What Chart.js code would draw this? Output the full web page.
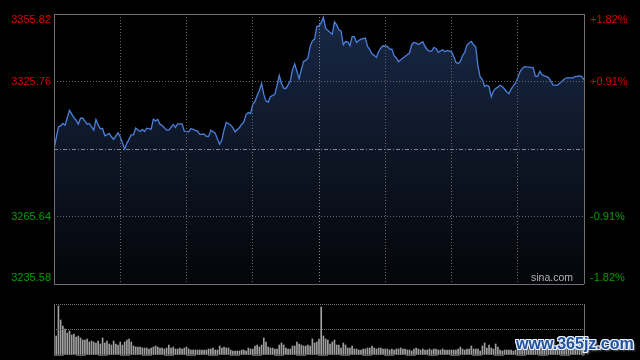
<!DOCTYPE html>
<html>
<head>
<meta charset="utf-8">
<script src="https://cdn.jsdelivr.net/npm/chart.js@4.4.1/dist/chart.umd.min.js"></script>
<style>
html, body { margin: 0; padding: 0; background: #000; }
#wrap { position: relative; width: 640px; height: 360px; overflow: hidden; background: #000; }
#priceChart { position: absolute; left: 0; top: 0; }
#volChart { position: absolute; left: 0; top: 300px; }
#mark {
    position: absolute; left: 516px; top: 335px;
    font: bold 16px "Liberation Sans", Arial, sans-serif;
    color: #22529e;
    text-shadow: 1px 0 0 #e8f0ff, -1px 0 0 #e8f0ff, 0 1px 0 #e8f0ff, 0 -1px 0 #e8f0ff,
                 1px 1px 0 #e8f0ff, -1px -1px 0 #e8f0ff, 1px -1px 0 #e8f0ff, -1px 1px 0 #e8f0ff,
                 2px 2px 2px #777;
}
</style>
</head>
<body>
<div id="wrap">
    <canvas id="priceChart" width="640" height="300"></canvas>
    <canvas id="volChart" width="640" height="60"></canvas>
    <div id="mark">www.365jz.com</div>
</div>
<script>
/// Axis levels
const prevClose = 3295.70;
const priceLevels = [3355.82, 3325.76, 3265.64, 3235.58];
const pctLabels = ['+1.82%', '+0.91%', '-0.91%', '-1.82%'];
const timeTicks = [0, 30, 60, 90, 120, 150, 180, 210, 240];

/// Intraday price (minute index from 9:30, 0..240)
const minutes = [0,2,3,4,5,7,9,10,11,12,13,15,16,18,19,20,21,22,23,25,26,27,29,30,32,33,35,36,37,39,
    40,41,42,44,45,46,47,48,49,51,52,54,55,56,58,59,61,62,64,65,66,68,69,70,71,73,74,75,76,77,
    78,80,81,82,84,85,86,87,88,89,90,91,92,93,94,95,96,97,98,100,101,102,103,104,105,107,108,109,110,111,
    112,113,114,115,116,117,118,119,120,121,122,123,124,126,127,128,129,130,131,132,133,134,135,136,137,138,139,141,142,143,
    144,146,147,148,149,151,152,153,154,155,156,157,158,160,161,162,163,164,165,167,168,169,170,171,172,173,174,176,177,178,
    179,180,181,182,183,184,185,186,187,188,189,190,191,192,193,194,195,196,197,198,199,200,201,202,203,205,206,207,208,209,
    210,211,212,213,214,216,217,218,219,220,221,222,223,224,225,226,228,229,230,231,232,234,235,236,238,239,240];
const prices = [3295.70,3305.56,3306.00,3307.06,3306.31,3312.94,3309.71,3308.52,3306.75,3309.40,3309.40,3306.75,3307.06,3304.10,3308.83,3306.44,3304.67,3304.85,3301.58,3302.64,3301.14,3299.99,3302.90,3301.14,3295.70,3298.22,3302.02,3302.02,3304.98,3303.52,
    3304.41,3303.52,3304.98,3304.54,3308.96,3308.21,3308.83,3306.75,3306.18,3304.10,3304.10,3306.62,3305.29,3306.88,3306.88,3303.66,3303.35,3304.85,3303.97,3303.66,3302.20,3302.33,3301.31,3301.31,3304.10,3302.77,3300.12,3297.78,3299.68,3304.23,
    3307.50,3306.44,3305.11,3303.35,3305.29,3306.75,3307.77,3311.17,3311.92,3311.48,3315.59,3316.79,3319.57,3321.78,3324.88,3320.01,3317.05,3316.61,3319.00,3320.01,3323.99,3328.41,3324.88,3322.80,3322.67,3325.89,3331.06,3333.58,3330.31,3326.95,
    3331.06,3334.73,3335.17,3336.23,3341.36,3343.88,3344.63,3350.20,3350.51,3351.97,3354.35,3349.49,3348.43,3346.84,3352.28,3350.95,3348.74,3348.17,3342.11,3343.57,3343.44,3341.67,3345.78,3345.78,3343.13,3344.01,3344.63,3345.07,3341.36,3339.91,
    3338.13,3336.59,3339.15,3340.66,3341.67,3341.36,3340.21,3340.21,3337.25,3336.23,3334.60,3335.49,3336.23,3337.70,3338.45,3342.25,3343.13,3342.86,3342.25,3343.44,3341.36,3339.91,3339.33,3339.33,3340.92,3340.48,3338.71,3339.91,3339.02,3339.60,
    3339.33,3339.02,3336.94,3334.29,3333.72,3334.73,3337.25,3338.71,3341.98,3342.87,3343.57,3342.11,3341.10,3332.52,3327.66,3326.64,3323.55,3324.12,3323.42,3319.00,3321.47,3322.67,3323.24,3324.12,3323.55,3321.21,3320.32,3322.36,3323.86,3325.01,
    3327.40,3330.05,3331.51,3332.39,3332.26,3332.08,3331.82,3328.10,3327.97,3330.31,3328.85,3328.28,3327.97,3327.40,3325.89,3324.12,3324.12,3325.01,3325.89,3326.78,3327.40,3327.40,3327.40,3327.97,3328.28,3327.97,3326.51];

/// Volume per minute (relative units), morning = minutes 1..120, afternoon = 121..240
const volMorning = [19,49,35,29,26,22,24,20,21,18, 19,17,15,15,16,13,14,13,12,14,
    11,17,12,14,11,10,14,11,10,13, 10,13,15,16,13,9,8,8,8,7,
    7,7,6,7,8,9,8,7,7,6, 7,10,7,8,6,6,7,6,7,8,
    6,5,5,5,5,5,5,5,5,6, 6,7,5,5,9,7,8,7,7,5,
    4,4,4,4,5,5,4,7,6,6, 9,10,8,10,17,13,8,7,7,6,
    6,10,12,10,7,6,6,9,9,13, 11,10,9,9,10,9,16,12,13,16];
const volAfternoon = [48,19,16,15,11,13,15,10,10,7, 12,10,7,7,9,6,6,5,5,6,
    6,7,7,9,7,6,7,7,6,6, 6,5,6,5,6,6,7,6,6,5,
    5,4,6,7,6,5,6,5,5,6, 5,6,6,5,5,6,5,5,5,5,
    5,5,6,8,6,5,6,6,9,6, 6,6,4,9,12,7,10,7,6,11,
    8,5,4,5,5,5,5,4,5,5, 5,5,6,5,5,6,6,5,6,7,
    6,5,6,6,7,6,5,6,7,8, 6,6,7,8,7,8,7,9,8,12];
const volMax = 51;

const FONT = '"Liberation Sans", Arial, sans-serif';
const frameColor = '#707070';
const dotColor = '#666666';

function areaFill(context) {
    const area = context.chart.chartArea;
    if (!area) return 'rgb(14,22,39)';
    const g = context.chart.ctx.createLinearGradient(0, area.top, 0, area.bottom);
    g.addColorStop(0, 'rgb(24,40,70)');
    g.addColorStop(1, 'rgb(4,5,8)');
    return g;
}

/// Side labels, drawn at the y scale's own pixels
const sideLabels = {
    id: 'sideLabels',
    afterDraw(chart) {
        const {ctx, chartArea, scales: {y}} = chart;
        ctx.save();
        ctx.font = '11px ' + FONT;
        ctx.textBaseline = 'middle';
        priceLevels.forEach((v, i) => {
            let py = y.getPixelForValue(v);
            if (i === 0) py += 6;
            if (i === priceLevels.length - 1) py -= 6;
            ctx.fillStyle = v > prevClose ? '#d80000' : '#00a000';
            ctx.textAlign = 'right';
            ctx.fillText(v.toFixed(2), chartArea.left - 3, py);
            ctx.textAlign = 'left';
            ctx.fillText(pctLabels[i], chartArea.right + 6, py);
        });
        ctx.fillStyle = '#b4b4b4';
        ctx.font = '10.5px ' + FONT;
        ctx.textAlign = 'right';
        ctx.fillText('sina.com', chartArea.right - 11, chartArea.bottom - 6);
        ctx.restore();
    }
};

/// Setup price chart
const priceChart = new Chart('priceChart', {
    type: 'line',
    data: {
        datasets: [{
            data: minutes.map((m, i) => ({x: m, y: prices[i]})),
            borderColor: '#4a80dc',
            borderWidth: 1.3,
            backgroundColor: areaFill,
            fill: 'start',
            pointRadius: 0,
            tension: 0
        }]
    },
    options: {
        responsive: false,
        animation: false,
        events: [],
        layout: {padding: {left: 54, right: 56, top: 14, bottom: 16}},
        plugins: {legend: {display: false}, tooltip: {enabled: false}},
        scales: {
            x: {
                type: 'linear', min: 0, max: 240,
                afterBuildTicks: s => { s.ticks = timeTicks.map(v => ({value: v})); },
                ticks: {display: false},
                grid: {
                    drawTicks: false, z: 1,
                    color: c => (c.tick.value === 0 || c.tick.value === 240) ? frameColor
                        : (c.tick.value === 120 ? '#858585' : dotColor)
                },
                border: {
                    display: false,
                    dash: c => (c.tick.value === 0 || c.tick.value === 240) ? [] : [1, 2]
                }
            },
            y: {
                min: priceLevels[3], max: priceLevels[0],
                afterBuildTicks: s => {
                    s.ticks = [priceLevels[3], priceLevels[2], prevClose, priceLevels[1], priceLevels[0]].map(v => ({value: v}));
                },
                ticks: {display: false},
                grid: {
                    drawTicks: false, z: 1,
                    color: c => c.tick.value === prevClose ? '#7d889c'
                        : ((c.tick.value === priceLevels[0] || c.tick.value === priceLevels[3]) ? frameColor : dotColor)
                },
                border: {
                    display: false,
                    dash: c => c.tick.value === prevClose ? [4, 2, 1, 2]
                        : ((c.tick.value === priceLevels[0] || c.tick.value === priceLevels[3]) ? [] : [1, 2])
                }
            }
        }
    },
    plugins: [sideLabels]
});

/// Setup volume chart
const volData = volMorning.map((v, i) => ({x: i + 1, y: v}))
    .concat(volAfternoon.map((v, i) => ({x: i + 121, y: v})));

const volChart = new Chart('volChart', {
    type: 'bar',
    data: {
        datasets: [{
            data: volData,
            backgroundColor: '#a0a0a0',
            borderWidth: 0,
            barThickness: 1
        }]
    },
    options: {
        responsive: false,
        animation: false,
        events: [],
        layout: {padding: {left: 54, right: 56, top: 4, bottom: 5}},
        plugins: {legend: {display: false}, tooltip: {enabled: false}},
        scales: {
            x: {
                type: 'linear', min: 0, max: 240, offset: false,
                afterBuildTicks: s => { s.ticks = [0, 240].map(v => ({value: v})); },
                ticks: {display: false},
                grid: {drawTicks: false, offset: false, color: frameColor},
                border: {display: false}
            },
            y: {
                min: 0, max: volMax,
                afterBuildTicks: s => { s.ticks = [0, volMax / 2, volMax].map(v => ({value: v})); },
                ticks: {display: false},
                grid: {drawTicks: false, z: 1, color: c => c.tick.value === 0 ? '#5a5a5a' : '#777777'},
                border: {display: false, dash: c => c.tick.value === 0 ? [10, 12] : [1, 1]}
            }
        }
    }
});
</script>
</body>
</html>
